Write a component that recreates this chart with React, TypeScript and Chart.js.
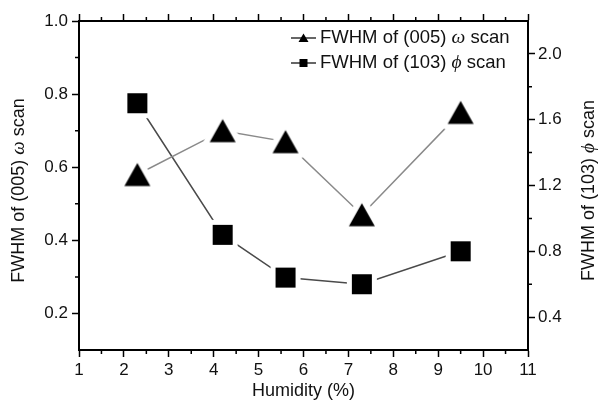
import React, { useEffect, useRef } from 'react';
import { Chart, registerables } from 'chart.js';

Chart.register(...registerables);

// ---- data ----
const humidity = [2.3, 4.2, 5.6, 7.3, 9.5];
const omegaFwhm = [0.58, 0.70, 0.67, 0.47, 0.75];
const phiFwhm = [1.70, 0.90, 0.64, 0.60, 0.80];

// ---- ticks ----
const xTicks = [1, 2, 3, 4, 5, 6, 7, 8, 9, 10, 11];
const xMinorTicks = [1.5, 2.5, 3.5, 4.5, 5.5, 6.5, 7.5, 8.5, 9.5, 10.5];
const leftTicks = [0.2, 0.4, 0.6, 0.8, 1.0];
const leftMinorTicks = [0.3, 0.5, 0.7, 0.9];
const rightTicks = [0.4, 0.8, 1.2, 1.6, 2.0];
const rightMinorTicks = [0.6, 1.0, 1.4, 1.8];

// ---- labels (text, italic) ----
type Part = [string, boolean];
const omegaLabel: Part[] = [['FWHM of (005) ', false], ['ω', true], [' scan', false]];
const phiLabel: Part[] = [['FWHM of (103) ', false], ['ϕ', true], [' scan', false]];
const xTitle = 'Humidity (%)';

const SANS = '"Liberation Sans", Arial, sans-serif';
const SERIF = '"Liberation Serif", "DejaVu Serif", "Times New Roman", serif';

function makeTriangle(): HTMLCanvasElement {
  const c = document.createElement('canvas');
  c.width = 48;
  c.height = 48;
  const g = c.getContext('2d')!;
  const cx = 24, cy = 24, w = 26, h = 23;
  const path = () => {
    g.beginPath();
    g.moveTo(cx, cy - h / 2);
    g.lineTo(cx + w / 2, cy + h / 2);
    g.lineTo(cx - w / 2, cy + h / 2);
    g.closePath();
  };
  path();
  g.lineJoin = 'round';
  g.lineWidth = 12;
  g.strokeStyle = '#fff';
  g.fillStyle = '#fff';
  g.stroke();
  g.fill();
  path();
  g.fillStyle = '#000';
  g.fill();
  return c;
}

function makeSquare(): HTMLCanvasElement {
  const c = document.createElement('canvas');
  c.width = 36;
  c.height = 36;
  const g = c.getContext('2d')!;
  const s = 20, o = 8;
  g.lineJoin = 'round';
  g.lineWidth = 10;
  g.strokeStyle = '#fff';
  g.fillStyle = '#fff';
  g.beginPath();
  g.rect(o, o, s, s);
  g.stroke();
  g.fill();
  g.fillStyle = '#000';
  g.fillRect(o, o, s, s);
  return c;
}

function drawRich(ctx: CanvasRenderingContext2D, parts: Part[], x: number, y: number, align: 'left' | 'center', size: number) {
  const fonts = parts.map(([, it]) => (it ? `italic ${size + 1}px ${SERIF}` : `${size}px ${SANS}`));
  const widths = parts.map(([t], i) => {
    ctx.font = fonts[i];
    return ctx.measureText(t).width;
  });
  const total = widths.reduce((a, b) => a + b, 0);
  let cx = align === 'center' ? x - total / 2 : x;
  ctx.textAlign = 'left';
  ctx.textBaseline = 'middle';
  parts.forEach(([t], i) => {
    ctx.font = fonts[i];
    ctx.fillText(t, cx, y);
    cx += widths[i];
  });
}

const minorTickPlugin = {
  id: 'minorTicks',
  afterDraw(chart: any) {
    const { ctx, chartArea: a, scales } = chart;
    ctx.save();
    ctx.strokeStyle = '#000';
    ctx.lineWidth = 1.5;
    ctx.beginPath();
    xMinorTicks.forEach((v) => {
      const px = scales.x.getPixelForValue(v);
      ctx.moveTo(px, a.bottom);
      ctx.lineTo(px, a.bottom + 4);
      ctx.moveTo(px, a.top);
      ctx.lineTo(px, a.top - 4);
    });
    leftMinorTicks.forEach((v) => {
      const py = scales.y.getPixelForValue(v);
      ctx.moveTo(a.left, py);
      ctx.lineTo(a.left - 4, py);
    });
    rightMinorTicks.forEach((v) => {
      const py = scales.y2.getPixelForValue(v);
      ctx.moveTo(a.right, py);
      ctx.lineTo(a.right + 4, py);
    });
    ctx.stroke();
    ctx.restore();
  },
};

const textPlugin = {
  id: 'richText',
  afterDraw(chart: any) {
    const { ctx, chartArea: a } = chart;
    ctx.save();
    ctx.fillStyle = '#111';
    const midY = (a.top + a.bottom) / 2 + 5;
    // left y title
    ctx.save();
    ctx.translate(19, midY);
    ctx.rotate(-Math.PI / 2);
    drawRich(ctx, omegaLabel, 0, 0, 'center', 18);
    ctx.restore();
    // right y title
    ctx.save();
    ctx.translate(chart.width - 12, midY);
    ctx.rotate(-Math.PI / 2);
    drawRich(ctx, phiLabel, 0, 0, 'center', 18);
    ctx.restore();
    // legend
    const items = [
      { parts: omegaLabel, marker: 'tri', y: a.top + 17 },
      { parts: phiLabel, marker: 'sq', y: a.top + 42 },
    ];
    const x0 = a.right - 237;
    items.forEach((it) => {
      ctx.strokeStyle = '#333';
      ctx.lineWidth = 1.5;
      ctx.beginPath();
      ctx.moveTo(x0, it.y);
      ctx.lineTo(x0 + 25, it.y);
      ctx.stroke();
      const mx = x0 + 12.5;
      ctx.fillStyle = '#000';
      if (it.marker === 'tri') {
        ctx.beginPath();
        ctx.moveTo(mx, it.y - 4.5);
        ctx.lineTo(mx + 5, it.y + 4);
        ctx.lineTo(mx - 5, it.y + 4);
        ctx.closePath();
        ctx.fill();
      } else {
        ctx.fillRect(mx - 4, it.y - 4, 8, 8);
      }
      ctx.fillStyle = '#111';
      drawRich(ctx, it.parts, x0 + 29, it.y, 'left', 18.5);
    });
    ctx.restore();
  },
};

const gridOpts = {
  display: true,
  drawOnChartArea: false,
  drawTicks: true,
  tickLength: 7,
  tickWidth: 1.5,
  tickColor: '#000',
  color: '#000',
};
const borderOpts = { display: true, width: 2, color: '#000' };
const tickFont = { family: SANS, size: 17 };

export default function App() {
  const ref = useRef<HTMLCanvasElement>(null);

  useEffect(() => {
    const tri = makeTriangle();
    const sq = makeSquare();
    const chart = new Chart(ref.current!, {
      type: 'scatter',
      data: {
        datasets: [
          {
            label: 'FWHM of (005) ω scan',
            data: humidity.map((x, i) => ({ x, y: omegaFwhm[i] })),
            xAxisID: 'x',
            yAxisID: 'y',
            showLine: true,
            borderColor: '#8a8a8a',
            borderWidth: 1.5,
            backgroundColor: '#000',
            pointStyle: tri as any,
            pointRadius: 12,
          },
          {
            label: 'FWHM of (103) ϕ scan',
            data: humidity.map((x, i) => ({ x, y: phiFwhm[i] })),
            xAxisID: 'x',
            yAxisID: 'y2',
            showLine: true,
            borderColor: '#4a4a4a',
            borderWidth: 1.5,
            backgroundColor: '#000',
            pointStyle: sq as any,
            pointRadius: 10,
          },
        ],
      },
      options: {
        animation: false,
        responsive: true,
        maintainAspectRatio: false,
        events: [],
        layout: { padding: 0 },
        plugins: {
          legend: { display: false },
          tooltip: { enabled: false },
        },
        scales: {
          x: {
            type: 'linear',
            position: 'bottom',
            min: 1,
            max: 11,
            afterBuildTicks: (s: any) => {
              s.ticks = xTicks.map((v) => ({ value: v }));
            },
            afterFit: (s: any) => {
              s.height = 53;
            },
            ticks: { font: tickFont, color: '#111', padding: 3, callback: (v: any) => String(v) },
            grid: gridOpts,
            border: borderOpts,
            title: {
              display: true,
              text: xTitle,
              color: '#111',
              font: { family: SANS, size: 18 },
              padding: { top: 0, bottom: 1 },
            },
          },
          x2: {
            type: 'linear',
            position: 'top',
            min: 1,
            max: 11,
            afterBuildTicks: (s: any) => {
              s.ticks = xTicks.map((v) => ({ value: v }));
            },
            afterFit: (s: any) => {
              s.height = 21;
            },
            ticks: { display: false },
            grid: gridOpts,
            border: borderOpts,
          },
          y: {
            type: 'linear',
            position: 'left',
            min: 0.1,
            max: 1.0,
            afterBuildTicks: (s: any) => {
              s.ticks = leftTicks.map((v) => ({ value: v }));
            },
            afterFit: (s: any) => {
              s.width = 79;
            },
            ticks: { font: tickFont, color: '#111', padding: 4, callback: (v: any) => Number(v).toFixed(1) },
            grid: gridOpts,
            border: borderOpts,
          },
          y2: {
            type: 'linear',
            position: 'right',
            min: 0.2,
            max: 2.2,
            afterBuildTicks: (s: any) => {
              s.ticks = rightTicks.map((v) => ({ value: v }));
            },
            afterFit: (s: any) => {
              s.width = 73;
            },
            ticks: { font: tickFont, color: '#111', padding: 3, callback: (v: any) => Number(v).toFixed(1) },
            grid: gridOpts,
            border: borderOpts,
          },
        },
      },
      plugins: [minorTickPlugin, textPlugin],
    } as any);
    return () => chart.destroy();
  }, []);

  return (
    <div style={{ position: 'fixed', left: 0, top: 0, width: 601, height: 403, background: '#fff' }}>
      <canvas ref={ref} />
    </div>
  );
}
